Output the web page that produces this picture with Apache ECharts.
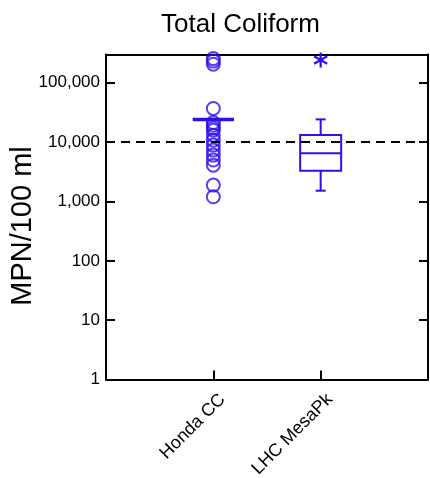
<!DOCTYPE html>
<html>
<head>
<meta charset="utf-8">
<script src="https://cdn.jsdelivr.net/npm/echarts@6/dist/echarts.min.js"></script>
<style>html,body{margin:0;padding:0;background:#fff;}#c{width:430px;height:478px;}</style>
</head>
<body>
<div id="c"></div>
<script>
// ---- data ----
const categories = ['', 'Honda CC', 'LHC MesaPk', ''];
const yTickValues = [1, 10, 100, 1000, 10000, 100000];
// [categoryIndex, low, q1, median, q3, high]
const boxHonda = [1, 24196, 24196, 24196, 24196, 24196];
const boxLHC = [2, 1520, 3300, 6470, 13150, 24196];
const hondaFarOutside = [256000, 232000, 206000, 37000, 21400, 19300, 17300, 15900, 13100, 10800, 8920, 7350, 6050, 4990, 4100, 1890, 1200];
const lhcOutside = [241960];
const referenceLine = 10000;

const BLUE = '#2d10ea';
const FONT = 'Liberation Sans, Arial, sans-serif';

const chart = echarts.init(document.getElementById('c'), null, {renderer: 'canvas'});

function fmt(v) { return Math.round(v).toLocaleString('en-US'); }

const option = {
  animation: false,
  title: {
    text: 'Total Coliform', left: 156, top: 7,
    textStyle: {fontFamily: FONT, fontSize: 26, fontWeight: 'normal', color: '#000'}
  },
  grid: {left: 106, right: 2, top: 54.5, bottom: 98.5, containLabel: false, outerBoundsMode: 'none'},
  xAxis: [{
    type: 'category', data: categories, boundaryGap: false,
    axisLine: {show: true, lineStyle: {color: '#000', width: 2}},
    axisTick: {show: true, inside: true, length: 9, lineStyle: {color: '#000', width: 2},
      interval: (i) => i === 1 || i === 2},
    axisLabel: {show: true, rotate: 45, margin: 8, interval: (i) => i === 1 || i === 2,
      fontFamily: FONT, fontSize: 18, color: '#000', verticalAlign: 'top', padding: [4, 0, 0, 0]},
    splitLine: {show: false}
  }, {
    type: 'category', data: categories, boundaryGap: false, position: 'top',
    axisLine: {show: true, lineStyle: {color: '#000', width: 2}},
    axisTick: {show: false}, axisLabel: {show: false}, splitLine: {show: false}
  }],
  yAxis: [{
    type: 'log', logBase: 10, min: 1, max: 300000, position: 'left',
    name: 'MPN/100 ml', nameLocation: 'middle', nameGap: 69, nameRotate: 90, nameMoveOverlap: false,
    nameTextStyle: {fontFamily: FONT, fontSize: 29, color: '#000', padding: [0, 18, 0, 0]},
    axisLine: {show: true, lineStyle: {color: '#000', width: 2}},
    axisTick: {show: true, inside: true, length: 9, lineStyle: {color: '#000', width: 2}},
    axisLabel: {show: true, margin: 6, showMaxLabel: false, fontFamily: FONT, fontSize: 17, color: '#000',
      formatter: (v) => yTickValues.indexOf(v) >= 0 ? fmt(v) : ''},
    splitLine: {show: false}, minorTick: {show: false}
  }, {
    type: 'log', logBase: 10, min: 1, max: 300000, position: 'right',
    axisLine: {show: true, lineStyle: {color: '#000', width: 2}},
    axisTick: {show: true, inside: true, length: 9, lineStyle: {color: '#000', width: 2}},
    axisLabel: {show: false}, splitLine: {show: false}
  }],
  series: [
    {
      type: 'custom', xAxisIndex: 0, yAxisIndex: 0,
      data: [boxHonda, boxLHC],
      encode: {x: 0, y: [1, 2, 3, 4, 5]},
      renderItem: function (params, api) {
        const c = api.value(0);
        const x = api.coord([c, api.value(3)])[0];
        const yLow = api.coord([c, api.value(1)])[1];
        const yQ1 = api.coord([c, api.value(2)])[1];
        const yMed = api.coord([c, api.value(3)])[1];
        const yQ3 = api.coord([c, api.value(4)])[1];
        const yHigh = api.coord([c, api.value(5)])[1];
        const hw = 20.5, cw = 5;
        const st = {stroke: BLUE, lineWidth: 2, fill: null};
        return {
          type: 'group',
          children: [
            {type: 'rect', shape: {x: x - hw, y: yQ3, width: 2 * hw, height: Math.max(yQ1 - yQ3, 0)}, style: st},
            {type: 'line', shape: {x1: x - hw, y1: yMed, x2: x + hw, y2: yMed}, style: Object.assign({}, st, {lineWidth: yQ1 - yQ3 < 1 ? 3.5 : 2})},
            {type: 'line', shape: {x1: x, y1: yQ3, x2: x, y2: yHigh}, style: st},
            {type: 'line', shape: {x1: x, y1: yQ1, x2: x, y2: yLow}, style: st},
            {type: 'line', shape: {x1: x - cw, y1: yHigh, x2: x + cw, y2: yHigh}, style: st},
            {type: 'line', shape: {x1: x - cw, y1: yLow, x2: x + cw, y2: yLow}, style: st}
          ]
        };
      },
      markLine: {
        silent: true, symbol: ['none', 'none'],
        label: {show: false},
        lineStyle: {color: '#000', width: 2, type: [9, 6]},
        data: [{yAxis: referenceLine}]
      },
      z: 3
    },
    {
      type: 'scatter', xAxisIndex: 0, yAxisIndex: 0,
      data: hondaFarOutside.map(v => [1, v]),
      symbol: 'circle', symbolSize: 13,
      itemStyle: {color: 'rgba(0,0,0,0)', borderColor: BLUE, borderWidth: 2},
      z: 4
    },
    {
      type: 'custom', xAxisIndex: 0, yAxisIndex: 0,
      data: lhcOutside.map(v => [2, v]),
      encode: {x: 0, y: 1},
      renderItem: function (params, api) {
        const p = api.coord([api.value(0), api.value(1)]);
        const r = 7.5, dx = r * 0.87, dy = r * 0.5;
        const st = {stroke: BLUE, lineWidth: 2.2};
        return {
          type: 'group',
          children: [
            {type: 'line', shape: {x1: p[0], y1: p[1] - r, x2: p[0], y2: p[1] + r}, style: st},
            {type: 'line', shape: {x1: p[0] - dx, y1: p[1] - dy, x2: p[0] + dx, y2: p[1] + dy}, style: st},
            {type: 'line', shape: {x1: p[0] - dx, y1: p[1] + dy, x2: p[0] + dx, y2: p[1] - dy}, style: st}
          ]
        };
      },
      z: 5
    }
  ]
};
chart.setOption(option);
</script>
</body>
</html>
